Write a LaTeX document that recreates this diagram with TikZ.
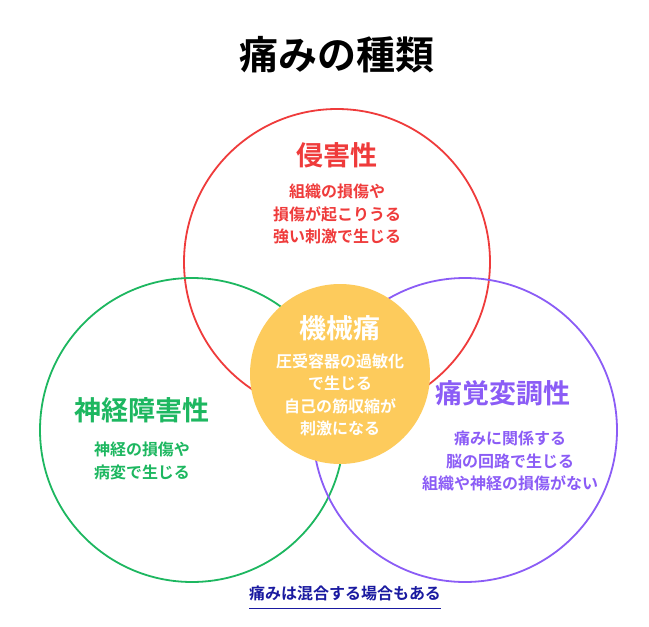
\documentclass[tikz,border=0pt]{standalone}
\usepackage{fontspec}
\setmainfont{Noto Sans CJK JP}[BoldFont={* Bold}]
\definecolor{cred}{HTML}{EF3B3B}
\definecolor{cgreen}{HTML}{1DB760}
\definecolor{cpurple}{HTML}{8B5CF6}
\definecolor{cyellow}{HTML}{FDCB5C}
\definecolor{cnavy}{HTML}{1A1AA0}
\begin{document}
\begin{tikzpicture}[x=1pt,y=-1pt,
  ring/.style={draw=#1,line width=1.8pt},
  ttl/.style={font=\bfseries\fontsize{27}{30}\selectfont,text=#1},
  body/.style={font=\bfseries\fontsize{16}{22.5}\selectfont,text=#1,align=center}]
\useasboundingbox[fill=white] (0,0) rectangle (649,627);
\node[font=\bfseries\fontsize{39}{42}\selectfont] (title) at (337,55) {痛みの種類};
\node[ring=cred,circle,minimum size=306pt] (red) at (337,262) {};
\node[ring=cgreen,circle,minimum size=304pt] (green) at (192,430) {};
\node[ring=cpurple,circle,minimum size=304pt] (purple) at (465,430) {};
\node[fill=cyellow,circle,minimum size=180pt] (yel) at (340,374) {};
\node[ttl=cred] (t1) at (337,155) {侵害性};
\node[body=cred] (b1) at (337,214) {組織の損傷や\\損傷が起こりうる\\強い刺激で生じる};
\node[ttl=white] (t2) at (340,328) {機械痛};
\node[body=white] (b2) at (340,395) {圧受容器の過敏化\\で生じる\\自己の筋収縮が\\刺激になる};
\node[ttl=cgreen] (t3) at (142,410) {神経障害性};
\node[body=cgreen] (b3) at (142,461) {神経の損傷や\\病変で生じる};
\node[ttl=cpurple] (t4) at (503,393) {痛覚変調性};
\node[body=cpurple] (b4) at (510,461) {痛みに関係する\\脳の回路で生じる\\組織や神経の損傷がない};
\node[font=\bfseries\fontsize{16}{18}\selectfont,text=cnavy] (note) at (345,593) {痛みは混合する場合もある};
\draw[cnavy,line width=0.9pt] ([xshift=4pt,yshift=-4pt]note.south west) -- ([xshift=-4pt,yshift=-4pt]note.south east);
\end{tikzpicture}
\end{document}
